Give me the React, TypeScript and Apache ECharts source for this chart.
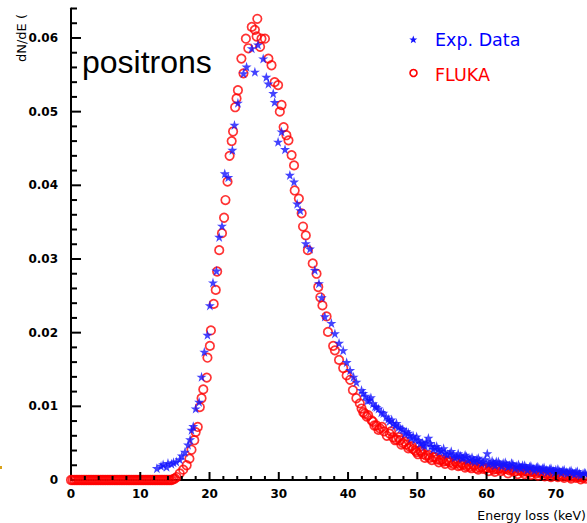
import React, { useEffect, useRef } from "react";
import * as echarts from "echarts";

// FLUKA simulation (red open circles): energy loss (keV) and dN/dE
const flukaE = [
  0, 0.5, 1, 1.5, 2, 2.5, 3, 3.5, 4, 4.5, 5, 5.5, 6, 6.5, 7, 7.5, 8, 8.5, 9, 9.5,
  10, 10.5, 11, 11.5, 12, 12.5, 13, 13.5, 14, 14.5, 15.0, 15.25, 15.7, 16.2, 16.7,
  17.1, 17.4, 17.8, 18.0, 18.3, 18.6, 18.85, 19.1, 19.6, 19.7, 20.05, 20.2, 20.6,
  20.9, 21.1, 21.4, 21.8, 22.1, 22.3, 22.6, 22.9, 23.2, 23.4, 23.7, 23.9, 24.1,
  24.6, 24.9, 25.25, 25.6, 26.1, 26.55, 26.8, 26.9, 27.3, 27.5, 28.0, 28.5, 28.95,
  29.4, 29.9, 30.15, 30.4, 30.7, 31.1, 31.4, 31.85, 32.2, 32.3, 32.9, 33.3, 33.5,
  33.9, 34.2, 34.9, 35.45, 35.7, 36.0, 36.3, 36.9, 37.1, 37.85, 38.1, 38.7, 39.3,
  39.8, 40.3, 40.7, 41.2, 41.7, 41.95, 42.4, 42.7, 43.4, 43.6, 44.1, 44.6, 45.2,
  46.0, 46.5, 47.0, 47.5, 47.95, 48.4, 48.9, 49.4, 49.9, 50.4, 50.8, 51.3, 51.8,
  52.3, 52.8, 53.3, 53.8, 54.2, 54.7, 55.2, 55.7, 56.2, 56.6, 57.1, 57.6, 58.1,
  58.5, 59.0, 59.5, 60.0, 60.5, 61.0, 61.4, 61.9, 62.4, 62.9, 63.3, 63.8, 64.3,
  64.8, 65.2, 65.7, 66.2, 66.7, 67.2, 67.6, 68.1, 68.6, 69.1, 69.6, 70.0, 70.5,
  71.0, 71.5, 72.0, 72.4, 72.9, 73.4, 73.9, 74.3,
];
const flukaDN = [
  0, 0, 0, 0, 0, 0, 0, 0, 0, 0, 0, 0, 0, 0, 0, 0, 0, 0, 0, 0,
  0, 0, 0, 0, 0, 0, 0, 0, 0, 0, 0.0002, 0.0004, 0.0009, 0.0014, 0.002,
  0.0029, 0.0041, 0.0054, 0.0065, 0.0072, 0.0099, 0.0111, 0.0123, 0.0139, 0.0166, 0.0182, 0.0203, 0.0239,
  0.0258, 0.0283, 0.0312, 0.0335, 0.0356, 0.038, 0.0405, 0.044, 0.046, 0.0473, 0.0506, 0.0518, 0.0529,
  0.0572, 0.0552, 0.0599, 0.0586, 0.0615, 0.0611, 0.0602, 0.0626, 0.0588, 0.0599, 0.0599, 0.0572, 0.0563,
  0.054, 0.0536, 0.05, 0.0509, 0.0479, 0.0468, 0.0461, 0.0441, 0.0427, 0.0393, 0.0382, 0.0362, 0.0344,
  0.0332, 0.0312, 0.0294, 0.028, 0.0262, 0.0248, 0.0237, 0.0222, 0.0201, 0.0182, 0.0176, 0.0163, 0.0152,
  0.0142, 0.0136, 0.0122, 0.0111, 0.0104, 0.0097, 0.009, 0.0086, 0.0081, 0.0079, 0.0074, 0.007, 0.0066,
  0.0063, 0.0058, 0.0055, 0.0054, 0.005, 0.0048, 0.0045, 0.0042, 0.0038, 0.004, 0.0035, 0.0033, 0.003,
  0.0031, 0.0028, 0.0027, 0.0025, 0.0026, 0.0024, 0.0022, 0.0023, 0.002, 0.0021, 0.0019, 0.0018, 0.002,
  0.0016, 0.0017, 0.0015, 0.0016, 0.0017, 0.0014, 0.0015, 0.0016, 0.0014, 0.0015, 0.0013, 0.0014, 0.0012,
  0.0013, 0.0011, 0.0012, 0.001, 0.0011, 0.0009, 0.001, 0.0009, 0.0008, 0.0009, 0.0007, 0.0008, 0.0007,
  0.0005, 0.0006, 0.0004, 0.0005, 0.0003, 0.0004, 0.0003, 0.0002,
];
// extra FLUKA points in the dense zero band and in the tail
const flukaBandE = [
  0.25, 0.75, 1.25, 1.75, 2.25, 2.75, 3.25, 3.75, 4.25, 4.75, 5.25, 5.75, 6.25, 6.75, 7.25,
  7.75, 8.25, 8.75, 9.25, 9.75, 10.25, 10.75, 11.25, 11.75, 12.25, 12.75, 13.25, 13.75, 14.25, 14.75,
];
const flukaBandDN = [
  0, 0, 0, 0, 0, 0, 0, 0, 0, 0, 0, 0, 0, 0, 0,
  0, 0, 0, 0, 0, 0, 0, 0, 0, 0, 0, 0, 0, 0, 0.0001,
];
const flukaTailE = [
  42.2, 42.9, 43.8, 44.4, 44.9, 45.6, 46.2, 46.8, 47.3, 47.7, 48.2, 48.7, 49.2, 49.7,
  50.1, 50.6, 51.1, 51.6, 52.1, 52.6, 53.1, 53.6, 54.0, 54.5, 55.0, 55.5, 55.9, 56.4,
  56.9, 57.4, 57.8, 58.3, 58.8, 59.3, 59.8, 60.3, 60.8, 61.2, 61.7, 62.1, 62.6, 63.1,
  63.6, 64.0, 64.5, 65.0, 65.5, 65.9, 66.4, 66.9, 67.4, 67.9, 68.4, 68.8, 69.3, 69.8,
  70.3, 70.8, 71.2, 71.7, 72.2, 72.7, 73.2, 73.6, 74.1,
];
const flukaTailDN = [
  0.0092, 0.0088, 0.0074, 0.0068, 0.0072, 0.006, 0.0066, 0.0054, 0.0058, 0.0048, 0.0052, 0.0043, 0.0046, 0.004,
  0.0035, 0.0038, 0.003, 0.0034, 0.0027, 0.0031, 0.0024, 0.0028, 0.0022, 0.0026, 0.002, 0.0025, 0.0019, 0.0023,
  0.0017, 0.0021, 0.0016, 0.002, 0.0014, 0.0018, 0.0016, 0.0012, 0.0017, 0.0011, 0.0015, 0.0012, 0.0016, 0.0009,
  0.0014, 0.0011, 0.0008, 0.0013, 0.0008, 0.0011, 0.0007, 0.0011, 0.0006, 0.001, 0.0005, 0.0008, 0.0004, 0.0008,
  0.0004, 0.0007, 0.0003, 0.0006, 0.0002, 0.0005, 0.0004, 0.0001, 0.0004,
];

// Experimental data (blue stars)
const expE = [
  12.4, 13.0, 13.3, 13.8, 14.0, 14.5, 14.8, 15.2, 15.7, 16.0, 16.45, 16.9, 17.2,
  17.4, 17.65, 18.0, 18.5, 18.85, 19.25, 19.7, 20.05, 20.5, 21.0, 21.4, 21.8,
  22.2, 22.7, 23.3, 23.6, 24.1, 24.9, 25.35, 26.1, 26.55, 27.0, 27.75, 28.2,
  28.5, 29.2, 29.4, 29.9, 30.4, 30.9, 31.6, 32.2, 32.65, 33.1, 33.9, 34.5, 35.2,
  35.8, 36.2, 36.65, 37.6, 38.1, 38.7, 39.3, 39.8, 40.3, 40.8, 41.2, 41.95, 42.5,
  43.1, 43.6, 44.1, 44.8, 45.5, 46.0, 46.5, 47.0, 47.6, 48.4, 48.9, 49.4, 49.9,
  50.4, 50.9, 51.3, 51.6, 52.0, 52.5, 53.0, 53.5, 54.0, 54.7, 55.2, 55.7, 56.2,
  56.6, 57.1, 57.6, 58.1, 58.6, 59.0, 59.5, 60.1, 60.5, 61.0, 61.4, 61.9, 62.4,
  62.9, 63.3, 63.8, 64.3, 64.8, 65.2, 65.7, 66.2, 66.7, 67.2, 67.6, 68.1, 68.6,
  69.1, 69.6, 70.0, 70.5, 71.0, 71.5, 72.0, 72.4, 72.9, 73.4, 73.9, 74.3,
];
const expDN = [
  0.0016, 0.0019, 0.0021, 0.0018, 0.0023, 0.0022, 0.0024, 0.0025, 0.0028, 0.0033, 0.0038, 0.0048, 0.0055,
  0.0068, 0.0073, 0.0097, 0.0106, 0.014, 0.0174, 0.0197, 0.0237, 0.0268, 0.0284, 0.033, 0.0345,
  0.0416, 0.0411, 0.0448, 0.0482, 0.0512, 0.0552, 0.0561, 0.0586, 0.0554, 0.0591, 0.0572, 0.0547,
  0.0538, 0.0525, 0.0513, 0.0459, 0.0473, 0.0449, 0.0414, 0.0405, 0.0375, 0.0366, 0.0321, 0.0314, 0.0285,
  0.0267, 0.0248, 0.0222, 0.0213, 0.0199, 0.0186, 0.0176, 0.016, 0.0149, 0.014, 0.0133, 0.0122, 0.0114,
  0.0109, 0.0104, 0.0099, 0.0092, 0.0086, 0.008, 0.0077, 0.0077, 0.007, 0.0066, 0.0061, 0.006, 0.0059,
  0.005, 0.0048, 0.0052, 0.0057, 0.0046, 0.0045, 0.0042, 0.004, 0.0037, 0.0036, 0.0034, 0.0032, 0.0033,
  0.003, 0.0032, 0.0029, 0.0027, 0.0028, 0.0026, 0.0025, 0.0036, 0.0024, 0.0023, 0.0025, 0.0022, 0.0023,
  0.0021, 0.002, 0.0022, 0.0019, 0.0018, 0.002, 0.0017, 0.0018, 0.0016, 0.0017, 0.0015, 0.0016, 0.0014,
  0.0015, 0.0013, 0.0014, 0.0012, 0.0013, 0.0011, 0.0012, 0.001, 0.0011, 0.0009, 0.0008, 0.0009,
];
// extra experimental points in the tail
const expTailE = [
  42.2, 42.8, 43.3, 43.9, 44.4, 45.1, 45.8, 46.3, 46.8, 47.3, 47.9, 48.2, 48.7, 49.1,
  49.7, 50.2, 50.7, 51.1, 51.9, 52.3, 52.8, 53.2, 53.8, 54.3, 54.9, 55.4, 55.9, 56.4,
  56.9, 57.3, 57.9, 58.3, 58.8, 59.3, 59.8, 60.3, 60.8, 61.2, 61.7, 62.2, 62.7, 63.1,
  63.6, 64.1, 64.6, 65.0, 65.5, 65.9, 66.4, 66.9, 67.4, 67.9, 68.3, 68.8, 69.3, 69.8,
  70.3, 70.8, 71.2, 71.7, 72.2, 72.7, 73.1, 73.6, 74.1,
];
const expTailDN = [
  0.0118, 0.0108, 0.0112, 0.01, 0.0097, 0.0091, 0.0083, 0.0082, 0.0074, 0.0072, 0.0069, 0.0063, 0.0064, 0.0057,
  0.0055, 0.0054, 0.0051, 0.0046, 0.005, 0.0042, 0.0046, 0.0039, 0.0043, 0.0035, 0.0039, 0.0031, 0.0036, 0.003,
  0.0034, 0.0027, 0.0031, 0.0025, 0.003, 0.0023, 0.0028, 0.0022, 0.0026, 0.002, 0.0025, 0.0019, 0.0024, 0.0018,
  0.0023, 0.0016, 0.0021, 0.0016, 0.002, 0.0014, 0.0019, 0.0013, 0.0018, 0.0012, 0.0017, 0.0011, 0.0016, 0.001,
  0.0015, 0.001, 0.0014, 0.0009, 0.0013, 0.0008, 0.0012, 0.0007, 0.001,
];

const xTicks = [0, 10, 20, 30, 40, 50, 60, 70];
const yTicks = [0, 0.01, 0.02, 0.03, 0.04, 0.05, 0.06];

const STAR =
  "path://M50,0 L61,35 L98,35 L68,57 L79,91 L50,70 L21,91 L32,57 L2,35 L39,35 Z";

// tick marks: [x, y, kind] kind 0 x-major, 1 x-minor, 2 y-major, 3 y-minor
function buildTickMarks(): number[][] {
  const out: number[][] = [];
  for (let i = 1; i * 2 <= 74.5; i++) out.push([i * 2, 0, i % 5 === 0 ? 0 : 1]);
  for (let i = 1; i <= 32; i++) out.push([0, +(i * 0.002).toFixed(3), i % 5 === 0 ? 2 : 3]);
  return out;
}

export default function App() {
  const ref = useRef<HTMLDivElement>(null);

  useEffect(() => {
    if (!ref.current) return;
    const chart = echarts.init(ref.current, null, { renderer: "svg" });
    const zip = (xs: number[], ys: number[]) => xs.map((e, i) => [e, ys[i]]);
    const fluka = [
      ...zip(flukaE, flukaDN),
      ...zip(flukaBandE, flukaBandDN),
      ...zip(flukaTailE, flukaTailDN),
    ];
    const exp = [...zip(expE, expDN), ...zip(expTailE, expTailDN)];
    const labelFont = {
      color: "#000",
      fontFamily: "DejaVu Sans",
      fontWeight: "bold" as const,
      fontSize: 12,
    };
    chart.setOption({
      animation: false,
      backgroundColor: "#fff",
      grid: {
        left: 71,
        top: 8.5,
        right: 0,
        bottom: 43,
        containLabel: false,
      },
      xAxis: {
        type: "value",
        min: 0,
        max: 74.5,
        interval: 10,
        axisLine: { show: true, onZero: false, lineStyle: { color: "#000", width: 2 } },
        axisTick: { show: false },
        minorTick: { show: false },
        splitLine: { show: false },
        minorSplitLine: { show: false },
        axisLabel: {
          ...labelFont,
          margin: 8,
          showMaxLabel: false,
          formatter: (v: number) => (xTicks.includes(v) ? String(v) : ""),
        },
      },
      yAxis: {
        type: "value",
        min: 0,
        max: 0.064,
        interval: 0.01,
        axisLine: { show: true, lineStyle: { color: "#000", width: 2 } },
        axisTick: { show: false },
        minorTick: { show: false },
        splitLine: { show: false },
        minorSplitLine: { show: false },
        axisLabel: {
          ...labelFont,
          margin: 13,
          showMaxLabel: false,
          formatter: (v: number) => {
            const t = yTicks.find((y) => Math.abs(y - v) < 1e-9);
            return t === undefined ? "" : t === 0 ? "0" : t.toFixed(2);
          },
        },
      },
      series: [
        {
          name: "ticks",
          type: "custom",
          silent: true,
          clip: false,
          z: 10,
          encode: { x: 0, y: 1 },
          data: buildTickMarks(),
          renderItem: (_params: any, api: any) => {
            const p = api.coord([api.value(0), api.value(1)]);
            const k = api.value(2);
            const len = k === 0 ? 8 : k === 1 ? 4 : k === 2 ? 10 : 6;
            if (k < 2) {
              return {
                type: "rect",
                shape: { x: p[0] - 1, y: p[1] - len, width: 2, height: len },
                style: { fill: "#000" },
              };
            }
            return {
              type: "rect",
              shape: { x: p[0], y: p[1] - 1, width: len, height: 2 },
              style: { fill: "#000" },
            };
          },
        },
        {
          name: "FLUKA",
          type: "scatter",
          data: fluka,
          symbol: "circle",
          symbolSize: 8.5,
          itemStyle: { color: "rgba(255,255,255,0)", borderColor: "#ff0000", borderWidth: 1.7 },
          z: 2,
        },
        {
          name: "Exp. Data",
          type: "scatter",
          data: exp,
          symbol: STAR,
          symbolSize: 10,
          itemStyle: { color: "#1414ff" },
          z: 3,
        },
      ],
      graphic: [
        {
          type: "text",
          left: 82,
          top: 46,
          style: {
            text: "positrons",
            fill: "#000",
            font: "32px 'Liberation Sans'",
          },
        },
        {
          type: "text",
          x: 21,
          y: 38,
          rotation: Math.PI / 2,
          style: {
            text: "dN/dE (",
            fill: "#000",
            font: "13px 'DejaVu Sans'",
            align: "center",
            verticalAlign: "middle",
          },
        },
        {
          type: "text",
          x: 586,
          y: 515,
          style: {
            text: "Energy loss (keV)",
            fill: "#000",
            font: "12.5px 'DejaVu Sans'",
            align: "right",
            verticalAlign: "middle",
          },
        },
        {
          type: "polygon",
          shape: {
            points: [
              [413.3, 35.5], [414.4, 38.5], [417.3, 38.5], [415, 40.3], [415.8, 43.2],
              [413.3, 41.4], [410.8, 43.2], [411.6, 40.3], [409.3, 38.5], [412.2, 38.5],
            ],
          },
          style: { fill: "#1414ff" },
        },
        {
          type: "text",
          x: 435,
          y: 40,
          style: {
            text: "Exp. Data",
            fill: "#0000ff",
            font: "17.5px 'DejaVu Sans'",
            verticalAlign: "middle",
          },
        },
        {
          type: "circle",
          shape: { cx: 413.5, cy: 73, r: 3.5 },
          style: { fill: "none", stroke: "#ff0000", lineWidth: 1.6 },
        },
        {
          type: "text",
          x: 435,
          y: 75,
          style: {
            text: "FLUKA",
            fill: "#ff0000",
            font: "17.5px 'DejaVu Sans'",
            verticalAlign: "middle",
          },
        },
        {
          type: "rect",
          shape: { x: 0, y: 466, width: 2, height: 3 },
          style: { fill: "#d9a21b" },
        },
      ],
    });
    return () => chart.dispose();
  }, []);

  return (
    <div
      ref={ref}
      style={{ position: "fixed", left: 0, top: 0, width: 587, height: 523 }}
    />
  );
}
